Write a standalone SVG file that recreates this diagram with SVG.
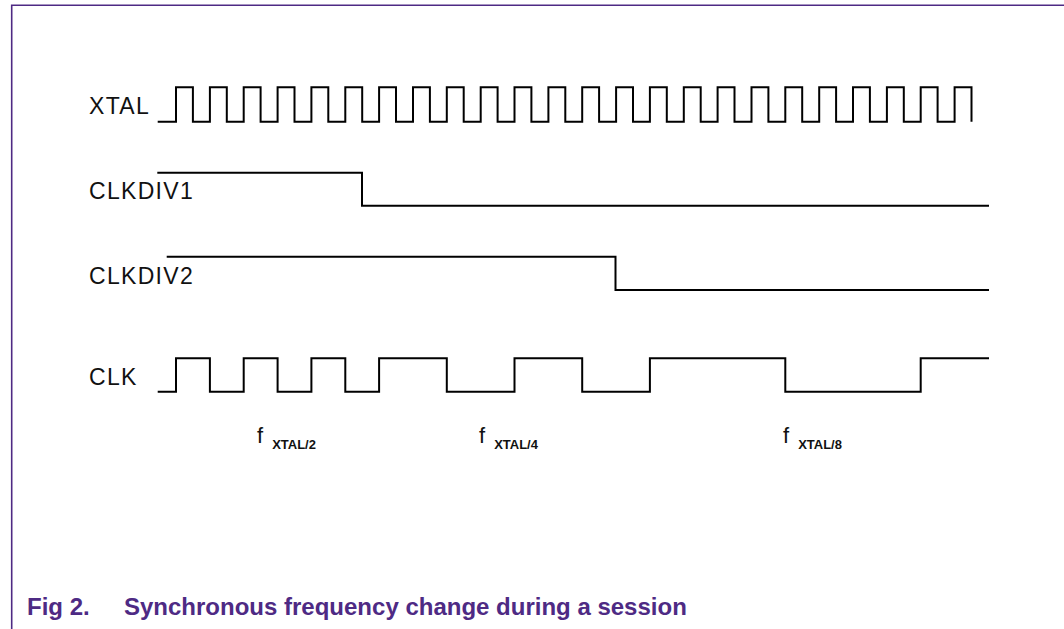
<svg xmlns="http://www.w3.org/2000/svg" width="1064" height="629" viewBox="0 0 1064 629">
<style>
.wave{fill:none;stroke:#000;stroke-width:2;stroke-linejoin:miter;stroke-linecap:butt}
.lbl{font-family:"Liberation Sans",Arial,sans-serif;font-size:23px;letter-spacing:1.3px;fill:#111}
.f{font-family:"Liberation Sans",Arial,sans-serif;font-size:22px;fill:#111}
.sub{font-family:"Liberation Sans",Arial,sans-serif;font-size:13px;font-weight:bold;fill:#111}
.cap{font-family:"Liberation Sans",Arial,sans-serif;font-size:24px;font-weight:bold;fill:#4e2a84}
.frame{fill:none;stroke:#4e2a84;stroke-width:1.6}
</style>
<rect width="1064" height="629" fill="#fff"/>
<path class="frame" d="M11.7 629 V5.3 H1064"/>
<g id="xtal">
<text class="lbl" x="89" y="113.5">XTAL</text>
</g>
<g id="clkdiv1">
<text class="lbl" x="89" y="198.5">CLKDIV1</text>
</g>
<g id="clkdiv2">
<text class="lbl" x="89" y="284">CLKDIV2</text>
</g>
<g id="clk">
<text class="lbl" x="89" y="385">CLK</text>
</g>
<g id="freq-labels">
<text class="f" x="257" y="443">f<tspan class="sub" dx="9" dy="6">XTAL/2</tspan></text>
<text class="f" x="479" y="443">f<tspan class="sub" dx="9" dy="6">XTAL/4</tspan></text>
<text class="f" x="783" y="443">f<tspan class="sub" dx="9" dy="6">XTAL/8</tspan></text>
</g>
<g id="connectors">
<path class="wave" d="M157.7 121.7 H176 V87.3 H192.9 V121.7 H209.9 V87.3 H226.8 V121.7 H243.7 V87.3 H260.6 V121.7 H277.6 V87.3 H294.5 V121.7 H311.4 V87.3 H328.3 V121.7 H345.3 V87.3 H362.2 V121.7 H379.1 V87.3 H396 V121.7 H413 V87.3 H429.9 V121.7 H446.8 V87.3 H463.7 V121.7 H480.7 V87.3 H497.6 V121.7 H514.5 V87.3 H531.4 V121.7 H548.4 V87.3 H565.3 V121.7 H582.2 V87.3 H599.1 V121.7 H616.1 V87.3 H633 V121.7 H649.9 V87.3 H666.8 V121.7 H683.8 V87.3 H700.7 V121.7 H717.6 V87.3 H734.5 V121.7 H751.5 V87.3 H768.4 V121.7 H785.3 V87.3 H802.2 V121.7 H819.2 V87.3 H836.1 V121.7 H853 V87.3 H869.9 V121.7 H886.9 V87.3 H903.8 V121.7 H920.7 V87.3 H937.6 V121.7 H954.6 V87.3 H971.5 V121.7"/>
<path class="wave" d="M157.3 172.7 H362 V205.7 H989"/>
<path class="wave" d="M166.7 256.7 H615.5 V290 H989"/>
<path class="wave" d="M157.7 391.7 H176 V358.3 H209.9 V391.7 H243.7 V358.3 H277.6 V391.7 H311.4 V358.3 H345.3 V391.7 H379.1 V358.3 H446.8 V391.7 H514.5 V358.3 H582.2 V391.7 H649.9 V358.3 H785.3 V391.7 H920.7 V358.3 H989"/>
</g>
<g id="caption">
<text class="cap" x="27" y="615">Fig 2.</text>
<text class="cap" x="124" y="615">Synchronous frequency change during a session</text>
</g>
</svg>
